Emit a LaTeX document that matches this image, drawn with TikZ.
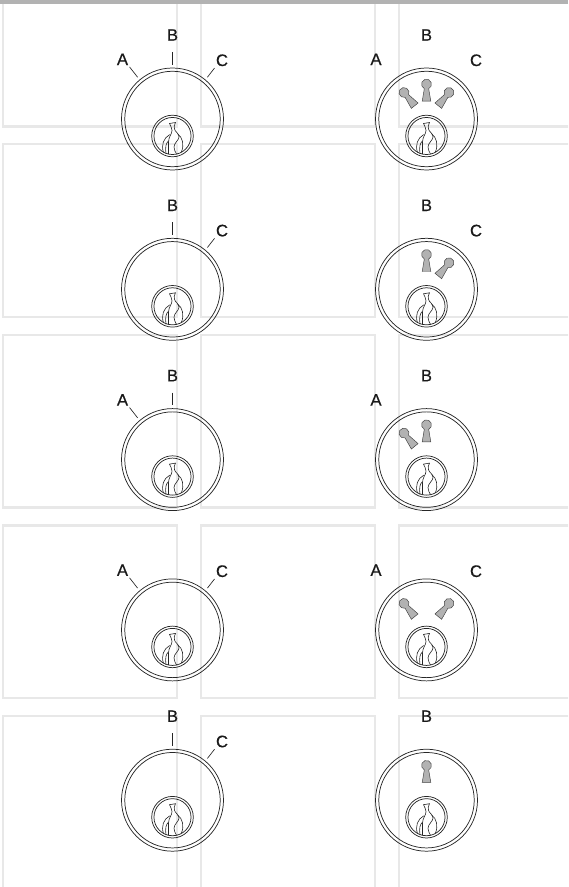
\documentclass[tikz,border=0pt]{standalone}
\usepackage{fontspec}
\setmainfont{Liberation Sans}
\newfontfamily\letterfont[FakeBold=0.5]{Liberation Sans}
\usetikzlibrary{arrows.meta,positioning}

\begin{document}
\begin{tikzpicture}[x=0.75pt,y=0.75pt]

\tikzset{
  frameline/.style={draw=black!9, line width=2.1pt},
  ringouter/.style={circle, draw=black!85, line width=0.55pt, inner sep=0pt, outer sep=0pt,
                  minimum size=76.5pt},
  ringinner/.style={circle, draw=black!85, line width=0.55pt, inner sep=0pt, outer sep=0pt,
                  minimum size=71.6pt},
  keyouter/.style={circle, draw=black!85, line width=0.55pt, inner sep=0pt, outer sep=0pt,
                  minimum size=31.2pt},
  keyinner/.style={circle, draw=black!85, line width=0.55pt, inner sep=0pt, outer sep=0pt,
                  minimum size=27.8pt},
  flameline/.style={black!85, line width=0.45pt},
  keyslot/.style={draw=black!75, fill=black!30, line width=0.35pt},
  letter/.style={font=\letterfont\fontsize{12.5pt}{12.5pt}\selectfont, inner sep=0pt, outer sep=0pt, text=black!90},
  leader/.style={black!85, line width=0.5pt, shorten <=1.8pt, shorten >=2.6pt},
  leadertop/.style={black!85, line width=0.5pt, shorten <=8.4pt, shorten >=2.4pt}
}

\newcommand{\lockface}[3]{
  \node[ringouter] (#1) at (#2,#3) {};
  \node[ringinner] (#1in) at (#1) {};
  \begin{scope}[shift={(#2,#3-17)}]
    \node[keyouter] (#1key) at (0,0) {};
    \node[keyinner] (#1keyin) at (0,0) {};
    \draw[flameline] (-4,-18) -- (-4,-6) .. controls (-4,-1) and (-0.5,2) .. (-0.5,5.5)
      .. controls (-0.5,8) and (-2,10) .. (-3,12.5) -- (3,13.5)
      .. controls (1.5,11) and (1.5,9) .. (2,7)
      .. controls (2.5,4) and (6.5,3) .. (6.5,-1)
      .. controls (6.5,-4) and (1.5,-7) .. (1.5,-11)
      .. controls (1.5,-14) and (3,-16) .. (4,-18);
    \draw[flameline] (-9,-16.5) .. controls (-11.5,-9) and (-9,-2) .. (-2.8,1.4);
    \draw[flameline] (-6.5,-18) .. controls (-7.5,-11) and (-6.5,-7) .. (-4,-5);
    \draw[flameline] (5.2,2) .. controls (10,-1) and (12,-9) .. (8.8,-16.2);
  \end{scope}
}

\newcommand{\keyhole}[3]{
  \begin{scope}[shift={(#1,#2)}, rotate=#3]
    \draw[keyslot] (-4.3,-17) -- (-2.2,-4.5) arc[start angle=244, end angle=-64, radius=5]
      -- (4.3,-17) -- cycle;
  \end{scope}
}

% Sheet size
\clip (0,0) rectangle (568,-887);

% Pale frames, first row runs off the top
\draw[frameline] (3,0) -- (3,-126.7) -- (177,-126.7) -- (177,0);
\draw[frameline] (201,0) -- (201,-126.7) -- (375,-126.7) -- (375,0);
\draw[frameline] (399,0) -- (399,-126.7) -- (570,-126.7);

\draw[frameline] (3,-144) rectangle (177,-317);
\draw[frameline] (201,-144) rectangle (375,-317);
\draw[frameline] (570,-144) -- (399,-144) -- (399,-317) -- (570,-317);

\draw[frameline] (3,-335) rectangle (177,-507.7);
\draw[frameline] (201,-335) rectangle (375,-507.7);
\draw[frameline] (570,-335) -- (399,-335) -- (399,-507.7) -- (570,-507.7);

\draw[frameline] (3,-525.7) rectangle (177,-698);
\draw[frameline] (201,-525.7) rectangle (375,-698);
\draw[frameline] (570,-525.7) -- (399,-525.7) -- (399,-698) -- (570,-698);

\draw[frameline] (3,-890) -- (3,-716) -- (177,-716) -- (177,-890);
\draw[frameline] (201,-890) -- (201,-716) -- (375,-716) -- (375,-890);
\draw[frameline] (570,-716) -- (399,-716) -- (399,-890);

% Top bar
\fill[black!30] (0,0) rectangle (568,-3.8);

% Locks
\lockface{l1}{172.5}{-119}
\lockface{r1}{426.5}{-119}
\lockface{l2}{172.5}{-289.3}
\lockface{r2}{426.5}{-289.3}
\lockface{l3}{172.5}{-459.6}
\lockface{r3}{426.5}{-459.6}
\lockface{l4}{172.5}{-629.9}
\lockface{r4}{426.5}{-629.9}
\lockface{l5}{172.5}{-800.2}
\lockface{r5}{426.5}{-800.2}

% Key slots
\keyhole{404}{-92.5}{39}
\keyhole{426.5}{-84.2}{0}
\keyhole{449}{-92.5}{-39}

\keyhole{426.5}{-254.5}{0}
\keyhole{449}{-262.8}{-39}

\keyhole{404}{-433.1}{39}
\keyhole{426.5}{-424.8}{0}

\keyhole{404}{-603.4}{39}
\keyhole{449}{-603.4}{-39}

\keyhole{426.5}{-765.4}{0}

% Letters, left column
\node[letter] (l1a) at (122.5,-59.3) {A};
\node[letter] (l1b) at (172.5,-35) {B};
\node[letter] (l1c) at (222,-60.3) {C};
\node[letter] (l2b) at (172.5,-205.3) {B};
\node[letter] (l2c) at (222,-230.6) {C};
\node[letter] (l3a) at (122.5,-399.9) {A};
\node[letter] (l3b) at (172.5,-375.6) {B};
\node[letter] (l4a) at (122.5,-570.2) {A};
\node[letter] (l4c) at (222,-571.2) {C};
\node[letter] (l5b) at (172.5,-716.2) {B};
\node[letter] (l5c) at (222,-741.5) {C};

% Letters, right column
\node[letter] (r1a) at (376,-59.3) {A};
\node[letter] (r1b) at (426.5,-35) {B};
\node[letter] (r1c) at (476,-60.3) {C};
\node[letter] (r2b) at (426.5,-205.3) {B};
\node[letter] (r2c) at (476,-230.6) {C};
\node[letter] (r3a) at (376,-399.9) {A};
\node[letter] (r3b) at (426.5,-375.6) {B};
\node[letter] (r4a) at (376,-570.2) {A};
\node[letter] (r4c) at (476,-571.2) {C};
\node[letter] (r5b) at (426.5,-716.2) {B};

% Leaders
\draw[leader] (l1a.south east) -- (l1.130);
\draw[leadertop] (l1b.south) -- (l1.north);
\draw[leader] (l1c.south west) -- (l1.50);
\draw[leadertop] (l2b.south) -- (l2.north);
\draw[leader] (l2c.south west) -- (l2.50);
\draw[leader] (l3a.south east) -- (l3.130);
\draw[leadertop] (l3b.south) -- (l3.north);
\draw[leader] (l4a.south east) -- (l4.130);
\draw[leader] (l4c.south west) -- (l4.50);
\draw[leadertop] (l5b.south) -- (l5.north);
\draw[leader] (l5c.south west) -- (l5.50);

\end{tikzpicture}
\end{document}
